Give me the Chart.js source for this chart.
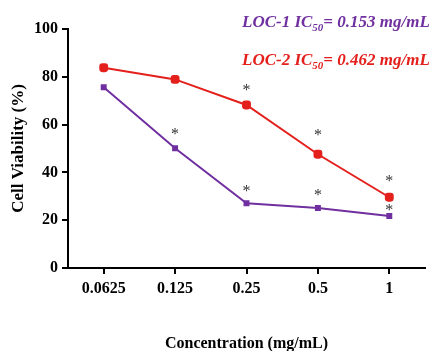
<!DOCTYPE html>
<html><head><meta charset="utf-8">
<script src="https://cdn.jsdelivr.net/npm/chart.js@4.4.0/dist/chart.umd.min.js"></script>
<style>html,body{margin:0;padding:0;background:#fff;}canvas{display:block;}</style>
</head><body>
<canvas id="c" width="431" height="351"></canvas>
<script>
const concentrations = ['0.0625', '0.125', '0.25', '0.5', '1'];
const loc1Viability = [75.6, 50.1, 27.1, 25.1, 21.8];
const loc2Viability = [83.8, 78.9, 68.2, 47.6, 29.6];
const loc1Stars = [null, 57.0, 33.1, 31.4, 25.1];
const loc2Stars = [null, null, 75.3, 56.5, 37.2];
const seriesNames = ['LOC-1', 'LOC-2'];
const ic50Values = ['0.153', '0.462'];
const yMin = 0, yMax = 100, yStep = 20;

const PURPLE = '#7030a0';
const RED = '#e3201c';
const SERIF = "'Liberation Serif', 'Times New Roman', serif";
Chart.defaults.font.family = SERIF;
Chart.defaults.color = '#000';

const starPlugin = {
  id: 'stars',
  afterDatasetsDraw(chart) {
    const ctx = chart.ctx, xs = chart.scales.x, ys = chart.scales.y;
    ctx.save();
    ctx.fillStyle = '#333';
    ctx.font = '16px ' + SERIF;
    ctx.textAlign = 'center';
    ctx.textBaseline = 'alphabetic';
    [loc1Stars, loc2Stars].forEach(arr => {
      arr.forEach((v, i) => {
        if (v === null) return;
        ctx.fillText('*', xs.getPixelForValue(i), ys.getPixelForValue(v) + 7);
      });
    });
    ctx.restore();
  }
};

const legendPlugin = {
  id: 'icLegend',
  afterDraw(chart) {
    const ctx = chart.ctx;
    const colors = [PURPLE, RED];
    const baselines = [27, 65];
    ctx.save();
    ctx.textBaseline = 'alphabetic';
    ctx.textAlign = 'left';
    seriesNames.forEach((name, k) => {
      let x = 242;
      const y = baselines[k];
      ctx.fillStyle = colors[k];
      ctx.font = 'italic bold 17px ' + SERIF;
      const a = name + ' IC';
      ctx.fillText(a, x, y); x += ctx.measureText(a).width;
      ctx.font = 'italic bold 11px ' + SERIF;
      ctx.fillText('50', x, y + 4); x += ctx.measureText('50').width;
      ctx.font = 'italic bold 17px ' + SERIF;
      ctx.fillText('= ' + ic50Values[k] + ' mg/mL', x, y);
    });
    ctx.restore();
  }
};

new Chart(document.getElementById('c'), {
  type: 'line',
  data: {
    labels: concentrations,
    datasets: [
      { label: seriesNames[0], data: loc1Viability, borderColor: PURPLE, backgroundColor: PURPLE,
        borderWidth: 2, pointStyle: 'rect', pointRadius: 2.8, pointHoverRadius: 2.8, tension: 0 },
      { label: seriesNames[1], data: loc2Viability, borderColor: RED, backgroundColor: RED,
        borderWidth: 2, pointStyle: 'rectRounded', pointRadius: 4, pointHoverRadius: 4, tension: 0 }
    ]
  },
  options: {
    responsive: false,
    animation: false,
    events: [],
    layout: { padding: { top: 29, right: 3, left: 0, bottom: 0 } },
    plugins: { legend: { display: false }, tooltip: { enabled: false } },
    scales: {
      x: {
        offset: true,
        grid: { drawOnChartArea: false, drawTicks: true, tickLength: 6, color: '#000', lineWidth: 2 },
        border: { color: '#000', width: 2 },
        ticks: { font: { size: 16, weight: 'bold' }, color: '#000', padding: 5, maxRotation: 0 },
        title: { display: true, text: 'Concentration (mg/mL)', font: { size: 16, weight: 'bold' }, color: '#000', padding: { top: 0, bottom: -2 } },
        afterFit(s) { s.height = 83; }
      },
      y: {
        min: yMin, max: yMax,
        grid: { drawOnChartArea: false, drawTicks: true, tickLength: 6, color: '#000', lineWidth: 2 },
        border: { color: '#000', width: 2 },
        ticks: { stepSize: yStep, font: { size: 16, weight: 'bold' }, color: '#000', padding: 4 },
        title: { display: true, text: 'Cell Viability (%)', font: { size: 17, weight: 'bold' }, color: '#000', padding: { top: 8, bottom: 0 } },
        afterFit(s) { s.width = 68; }
      }
    }
  },
  plugins: [starPlugin, legendPlugin]
});
</script>
</body></html>
